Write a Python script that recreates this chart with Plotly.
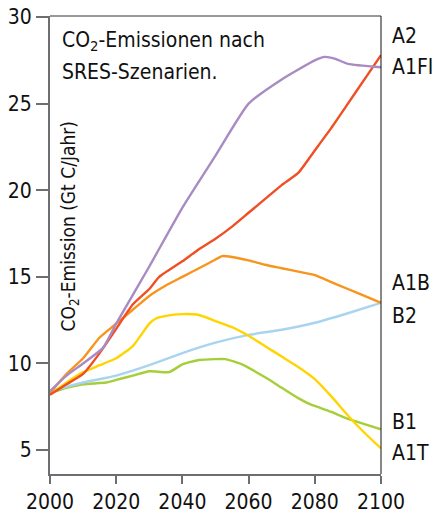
import plotly.graph_objects as go

FONT = "DejaVu Sans Condensed, DejaVu Sans, sans-serif"

years_a1fi = [2000, 2005, 2010, 2016, 2020, 2030, 2040, 2050, 2060, 2070, 2080, 2083, 2086, 2090, 2100]
a1fi = [8.4, 9.3, 10.0, 10.9, 12.3, 15.6, 19.0, 22.0, 25.0, 26.4, 27.5, 27.7, 27.6, 27.3, 27.1]

years_a2 = [2000, 2005, 2010, 2015, 2020, 2025, 2030, 2033, 2040, 2045, 2050, 2055, 2060, 2065, 2070, 2075, 2080, 2085, 2090, 2095, 2100]
a2 = [8.2, 8.8, 9.4, 10.6, 12.0, 13.4, 14.3, 15.0, 15.9, 16.6, 17.2, 17.9, 18.7, 19.5, 20.3, 21.0, 22.3, 23.6, 25.0, 26.4, 27.8]

years_a1b = [2000, 2005, 2010, 2015, 2020, 2025, 2030, 2035, 2040, 2045, 2050, 2052, 2055, 2060, 2065, 2070, 2075, 2080, 2085, 2090, 2095, 2100]
a1b = [8.3, 9.4, 10.3, 11.5, 12.3, 13.1, 13.9, 14.5, 15.0, 15.5, 16.0, 16.2, 16.15, 15.95, 15.7, 15.5, 15.3, 15.1, 14.7, 14.3, 13.9, 13.5]

years_a1t = [2000, 2005, 2010, 2015, 2020, 2025, 2030, 2032, 2035, 2040, 2045, 2050, 2055, 2060, 2065, 2070, 2075, 2080, 2085, 2090, 2095, 2100]
a1t = [8.2, 8.9, 9.5, 9.9, 10.3, 11.0, 12.3, 12.6, 12.75, 12.85, 12.8, 12.45, 12.1, 11.6, 11.0, 10.4, 9.8, 9.1, 8.1, 7.0, 6.0, 5.1]

years_b2 = [2000, 2010, 2020, 2030, 2040, 2050, 2060, 2070, 2080, 2090, 2100]
b2 = [8.4, 8.9, 9.3, 9.9, 10.6, 11.2, 11.65, 11.95, 12.35, 12.9, 13.5]

years_b1 = [2000, 2005, 2010, 2017, 2020, 2025, 2030, 2036, 2040, 2045, 2050, 2053, 2058, 2065, 2070, 2075, 2078, 2080, 2085, 2090, 2095, 2100]
b1 = [8.3, 8.6, 8.8, 8.9, 9.05, 9.3, 9.55, 9.5, 9.95, 10.2, 10.25, 10.25, 9.95, 9.2, 8.6, 8.0, 7.7, 7.55, 7.2, 6.8, 6.5, 6.2]

series = [
    ("B1", years_b1, b1, "#a6ce39"),
    ("B2", years_b2, b2, "#a9d4ef"),
    ("A1T", years_a1t, a1t, "#ffd400"),
    ("A1B", years_a1b, a1b, "#f7941d"),
    ("A2", years_a2, a2, "#f04e23"),
    ("A1FI", years_a1fi, a1fi, "#a98bc4"),
]

label_names = ["A2", "A1FI", "A1B", "B2", "B1", "A1T"]
label_y = [28.9, 27.1, 14.65, 12.75, 6.6, 4.85]

title_lines = ["CO<sub>2</sub>-Emissionen nach", "SRES-Szenarien."]
title_y = [28.6, 26.8]

x_ticks = [2000, 2020, 2040, 2060, 2080, 2100]
y_ticks = [5, 10, 15, 20, 25, 30]

fig = go.Figure()
for name, xs, ys, col in series:
    fig.add_trace(go.Scatter(x=xs, y=ys, mode="lines", name=name,
                             line=dict(color=col, width=2.4, shape="spline", smoothing=0.5),
                             showlegend=False, hoverinfo="skip"))

for n, yv in zip(label_names, label_y):
    fig.add_annotation(x=1, xref="paper", y=yv, yref="y", text=n, showarrow=False,
                       xanchor="left", yanchor="middle", xshift=9,
                       font=dict(family=FONT, size=21, color="#111"))

for t, yv in zip(title_lines, title_y):
    fig.add_annotation(x=2003, xref="x", y=yv, yref="y", text=t,
                       showarrow=False, xanchor="left", yanchor="middle", align="left",
                       font=dict(family=FONT, size=21, color="#111"))

fig.add_annotation(x=2006, xref="x", y=17.9, yref="y",
                   text="CO<sub>2</sub>-Emission (Gt C/Jahr)", textangle=-90,
                   showarrow=False, xanchor="center", yanchor="middle",
                   font=dict(family=FONT, size=19, color="#111"))

# top and right border
fig.add_shape(type="line", xref="paper", yref="paper", x0=0, x1=1, y0=1, y1=1,
              line=dict(color="#333", width=1))
fig.add_shape(type="line", xref="paper", yref="paper", x0=1, x1=1, y0=0, y1=1,
              line=dict(color="#111", width=1))

fig.update_layout(
    width=438, height=518,
    margin=dict(l=50, r=57, t=16, b=44),
    paper_bgcolor="white", plot_bgcolor="white",
    xaxis=dict(range=[2000, 2100], tickvals=x_ticks, ticktext=[str(v) for v in x_ticks],
               automargin=False,
               showgrid=False, zeroline=False, showline=True, linecolor="#6d6e71", linewidth=2,
               ticks="outside", ticklen=8, tickwidth=1.5, tickcolor="#6d6e71",
               tickfont=dict(family=FONT, size=21, color="#111")),
    yaxis=dict(range=[3.62, 30.06], tickvals=y_ticks, ticktext=[str(v) for v in y_ticks],
               automargin=False,
               showgrid=False, zeroline=False, showline=True, linecolor="#6d6e71", linewidth=2,
               ticks="outside", ticklen=12, tickwidth=1.5, tickcolor="#6d6e71",
               tickfont=dict(family=FONT, size=21, color="#111")),
)

fig.write_html("out.html", config={"displayModeBar": False},
               post_script="document.body.style.margin='0';document.body.style.overflow='hidden';")
